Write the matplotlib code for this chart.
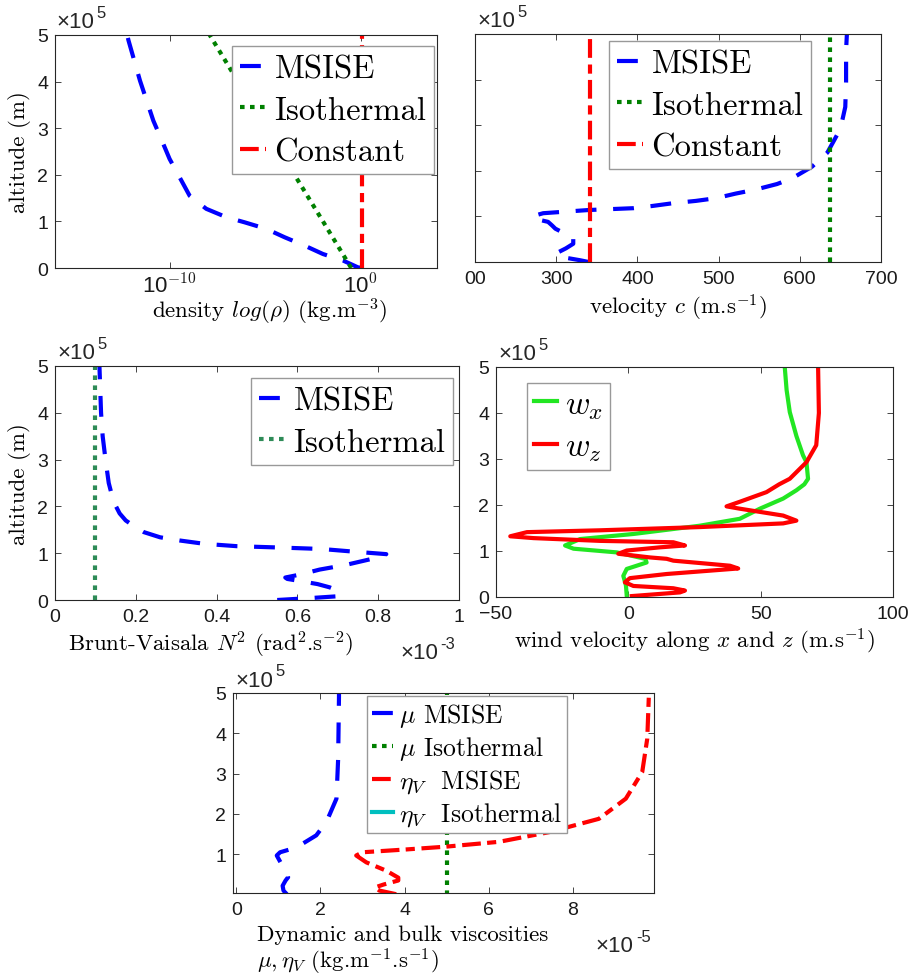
import matplotlib
matplotlib.use('Agg')
import matplotlib.pyplot as plt
from matplotlib.ticker import FuncFormatter, NullLocator

plt.rcParams['font.family'] = ['Liberation Sans', 'DejaVu Sans']
plt.rcParams['mathtext.fontset'] = 'cm'

# ---- data (altitudes in m) ----
# density
rho_msise_z = [0, 0.014e5, 0.16e5, 0.30e5, 0.48e5, 0.66e5, 0.84e5, 0.98e5, 1.09e5, 1.27e5,
               1.55e5, 1.95e5, 2.34e5, 2.73e5, 3.16e5, 3.59e5, 4.02e5, 4.45e5, 4.88e5, 5.0e5]
rho_msise = [1.2, 10**-0.14, 10**-0.92, 10**-1.97, 10**-2.93, 10**-3.98, 10**-4.94, 10**-6.07,
             10**-7.03, 10**-8.08, 10**-8.95, 10**-9.48, 10**-10.0, 10**-10.4, 10**-10.85,
             10**-11.2, 10**-11.55, 10**-11.85, 10**-12.15, 10**-12.22]
rho_iso_z = [0, 1e5, 2e5, 3e5, 4e5, 5e5]
rho_iso = [10**-0.49, 10**-1.97, 10**-3.46, 10**-4.94, 10**-6.42, 10**-7.9]
rho_const_z = [0, 5e5]
rho_const = [1.2, 1.2]
rho_ticklabels = [r'10$^{\mathsf{-10}}$', r'10$^{\mathsf{0}}$']

# sound speed
c_msise_z = [0, 0.04e5, 0.08e5, 0.12e5, 0.2e5, 0.3e5, 0.4e5, 0.53e5, 0.63e5, 0.73e5, 0.8e5,
             0.88e5, 0.93e5, 0.97e5, 1.02e5, 1.07e5, 1.14e5, 1.18e5, 1.23e5, 1.29e5, 1.34e5,
             1.40e5, 1.50e5, 1.59e5, 1.71e5, 1.84e5, 2.09e5, 2.40e5, 2.79e5, 3.08e5, 3.40e5,
             3.95e5, 4.65e5, 5.0e5]
c_msise = [340, 329, 316, 302, 301, 312, 321, 321, 310, 299, 295, 290, 278, 271, 274, 284,
           340, 395, 419, 444, 472, 497, 521, 546, 572, 591, 615, 634, 646, 652, 656, 657, 657, 658]
c_iso_z = [0, 5e5]
c_iso = [637, 637]
c_const_z = [0, 5e5]
c_const = [342, 342]
c_ticklabels = ['00', '300', '400', '500', '600', '700']

# Brunt-Vaisala frequency squared
n2_msise_z = [0, 0.04e5, 0.08e5, 0.14e5, 0.2e5, 0.27e5, 0.34e5, 0.4e5, 0.45e5, 0.48e5, 0.55e5,
              0.65e5, 0.75e5, 0.87e5, 0.98e5, 1.04e5, 1.09e5, 1.12e5, 1.15e5, 1.2e5, 1.27e5,
              1.34e5, 1.45e5, 1.55e5, 1.7e5, 1.85e5, 2.1e5, 2.5e5, 3.0e5, 3.5e5, 4.0e5, 4.5e5, 5.0e5]
n2_msise = [0.55e-3, 0.63e-3, 0.70e-3, 0.705e-3, 0.70e-3, 0.68e-3, 0.65e-3, 0.61e-3, 0.575e-3,
            0.57e-3, 0.61e-3, 0.655e-3, 0.72e-3, 0.78e-3, 0.82e-3, 0.73e-3, 0.66e-3, 0.56e-3,
            0.45e-3, 0.37e-3, 0.31e-3, 0.26e-3, 0.22e-3, 0.20e-3, 0.175e-3, 0.16e-3, 0.145e-3,
            0.133e-3, 0.125e-3, 0.118e-3, 0.114e-3, 0.112e-3, 0.110e-3]
n2_iso_z = [0, 5e5]
n2_iso = [0.1e-3, 0.1e-3]

# wind
wx_z = [0.02e5, 0.25e5, 0.46e5, 0.61e5, 0.75e5, 0.83e5, 0.97e5, 1.05e5, 1.12e5, 1.26e5, 1.37e5,
        1.55e5, 1.70e5, 1.92e5, 2.14e5, 2.32e5, 2.45e5, 2.57e5, 2.93e5, 3.08e5, 3.5e5, 4.02e5,
        4.5e5, 5.0e5]
wx = [-0.6, -0.9, -1.9, -0.6, 6.9, 6.4, -4.4, -20.7, -23.9, -18.2, 1.9, 27, 42.1, 49.7, 58.5,
      63.5, 66.5, 67.9, 67.3, 66, 63.5, 61, 59.8, 59.1]
wz_z = [0.02e5, 0.10e5, 0.14e5, 0.19e5, 0.24e5, 0.32e5, 0.41e5, 0.50e5, 0.62e5, 0.68e5, 0.79e5,
        0.83e5, 0.86e5, 0.94e5, 1.01e5, 1.08e5, 1.12e5, 1.19e5, 1.22e5, 1.28e5, 1.32e5, 1.41e5,
        1.45e5, 1.52e5, 1.60e5, 1.66e5, 1.77e5, 1.92e5, 1.97e5, 2.07e5, 2.28e5, 2.45e5, 2.57e5,
        2.93e5, 3.3e5, 4.0e5, 5.0e5]
wz = [1.3, 19.5, 21.4, 17, 1.9, -1.3, 0.6, 14.5, 41.5, 38.4, 17, 14.5, 8.2, -3.8, -0.6, 12,
      21.4, 17, -10.7, -35.8, -44.6, -38.3, -10.7, 27, 58.5, 63.5, 58.5, 42.1, 37.1, 42.1, 52.2,
      57, 61, 67.3, 71, 72, 71.7]

# viscosities
mu_msise_z = [0.01e5, 0.1e5, 0.22e5, 0.35e5, 0.43e5, 0.6e5, 0.8e5, 0.97e5, 1.05e5, 1.17e5,
              1.47e5, 1.8e5, 2.38e5, 3.37e5, 4.91e5, 5.0e5]
mu_msise = [1.2e-5, 1.12e-5, 1.1e-5, 1.17e-5, 1.23e-5, 1.2e-5, 1.05e-5, 0.96e-5, 1.04e-5,
            1.43e-5, 1.9e-5, 2.14e-5, 2.38e-5, 2.42e-5, 2.44e-5, 2.44e-5]
mu_iso_z = [0, 5e5]
mu_iso = [5.0e-5, 5.0e-5]
eta_msise_z = [0.01e5, 0.1e5, 0.18e5, 0.25e5, 0.35e5, 0.42e5, 0.59e5, 0.8e5, 0.97e5, 1.05e5,
               1.12e5, 1.19e5, 1.31e5, 1.55e5, 1.88e5, 2.38e5, 3.04e5, 3.87e5, 5.0e5]
eta_msise = [3.8e-5, 3.4e-5, 3.3e-5, 3.5e-5, 3.85e-5, 3.85e-5, 3.57e-5, 3.09e-5, 2.85e-5,
             3.0e-5, 4.04e-5, 4.99e-5, 6.25e-5, 7.44e-5, 8.62e-5, 9.26e-5, 9.65e-5, 9.77e-5, 9.81e-5]
eta_iso_z = []
eta_iso = []

BLUE, GREEN, RED = '#0000FF', '#008000', '#FF0000'
DASH = (0, (5, 4))
DOT = (0, (1.1, 1.3))
DASHDOT = (0, (4.5, 1.5, 2.2, 1.6))
LW = 3
LABEL = dict(fontfamily='cmr10', fontsize=16.5)
TICK = 14

fig = plt.figure(figsize=(9.09, 9.79), dpi=100)


def fx(px):
    return px / 909


def fy(py):
    return 1 - py / 979


def new_axes(left, top, right, bottom):
    ax = fig.add_axes([fx(left), fy(bottom), fx(right) - fx(left), fy(top) - fy(bottom)])
    ax.tick_params(direction='in', top=True, right=True, length=4, width=0.6,
                   labelsize=TICK, colors='0.15', labelcolor='0.1')
    ax.tick_params(axis='x', pad=6)
    ax.tick_params(axis='y', pad=5)
    for s in ax.spines.values():
        s.set_color('0.15')
        s.set_linewidth(0.8)
    return ax


alt_fmt = FuncFormatter(lambda v, p: f'{v / 1e5:g}')


def exp_text(ax, x, y, e, va='bottom'):
    # "x10" with a raised exponent, as MATLAB draws the axis multiplier
    base = ax.text(x, y, '×10', transform=ax.transAxes, ha='left', va=va,
                   fontsize=16, color='0.15')
    ax.annotate(e, xy=(1, 1), xycoords=base, xytext=(1.5, 4.5), textcoords='offset points',
                ha='left', va='top', fontsize=12, color='0.15')


def add_legend(ax, anchor, size=24, **kw):
    opts = dict(handlelength=0.8, handletextpad=0.25, borderpad=0.25, labelspacing=0.38)
    opts.update(kw)
    leg = ax.legend(loc='upper left', bbox_to_anchor=(fx(anchor[0]), fy(anchor[1])),
                    bbox_transform=fig.transFigure, borderaxespad=0, fancybox=False,
                    framealpha=1, prop={'family': 'cmr10', 'size': size}, **opts)
    leg.get_frame().set_edgecolor('0.6')
    leg.get_frame().set_linewidth(1)
    return leg


# ---- panel 1: density ----
ax1 = new_axes(55, 36, 437, 269)
ax1.plot(rho_msise, rho_msise_z, color=BLUE, lw=LW, ls=DASH, label=r'MSISE')
ax1.plot(rho_iso, rho_iso_z, color=GREEN, lw=LW, ls=DOT, label=r'Isothermal')
ax1.plot(rho_const, rho_const_z, color=RED, lw=LW, ls=DASHDOT, label=r'Constant')
ax1.set_xscale('log')
ax1.set_xlim(1e-16, 1e4)
ax1.set_ylim(0, 5e5)
ax1.set_xticks([1e-10, 1])
ax1.set_xticklabels(rho_ticklabels, fontsize=16)
ax1.xaxis.set_minor_locator(NullLocator())
ax1.tick_params(axis='x', pad=4)
ax1.yaxis.set_major_formatter(alt_fmt)
ax1.set_xlabel(r'density $log(\rho)$ (kg.m$^{-3}$)', va='center', **LABEL)
ax1.xaxis.set_label_coords(0.563, -0.182)
ax1.set_ylabel('altitude (m)', va='center', **LABEL)
ax1.yaxis.set_label_coords(-0.092, 0.5)
exp_text(ax1, 0.005, 1.012, '5')
add_legend(ax1, (232, 47), size=23.5)

# ---- panel 2: sound speed ----
ax2 = new_axes(475, 35, 881, 263)
ax2.plot(c_msise, c_msise_z, color=BLUE, lw=LW, ls=DASH, label='MSISE')
ax2.plot(c_iso, c_iso_z, color=GREEN, lw=LW, ls=DOT, label='Isothermal')
ax2.plot(c_const, c_const_z, color=RED, lw=LW, ls=DASHDOT, label='Constant')
ax2.set_xlim(200, 700)
ax2.set_ylim(0, 5e5)
ax2.set_xticks(range(200, 701, 100))
ax2.set_xticklabels(c_ticklabels)
ax2.set_yticks([0, 1e5, 2e5, 3e5, 4e5, 5e5])
ax2.tick_params(axis='y', labelleft=False)
ax2.set_xlabel(r'velocity $c$ (m.s$^{-1}$)', va='center', **LABEL)
ax2.xaxis.set_label_coords(0.5, -0.197)
exp_text(ax2, 0.005, 1.012, '5')
add_legend(ax2, (609, 42), size=23.5)

# ---- panel 3: Brunt-Vaisala ----
ax3 = new_axes(55, 367, 459, 601)
ax3.plot(n2_msise, n2_msise_z, color=BLUE, lw=LW, ls=DASH, label='MSISE')
ax3.plot(n2_iso, n2_iso_z, color='#2E8B57', lw=LW, ls=DOT, label='Isothermal')
ax3.set_xlim(0, 1e-3)
ax3.set_ylim(0, 5e5)
ax3.set_xticks([0, 0.2e-3, 0.4e-3, 0.6e-3, 0.8e-3, 1e-3])
ax3.xaxis.set_major_formatter(FuncFormatter(lambda v, p: f'{v / 1e-3:g}'))
ax3.yaxis.set_major_formatter(alt_fmt)
ax3.set_xlabel(r'Brunt-Vaisala $N^2$ (rad$^2$.s$^{-2}$)', va='center', **LABEL)
ax3.xaxis.set_label_coords(0.386, -0.188)
ax3.set_ylabel('altitude (m)', va='center', **LABEL)
ax3.yaxis.set_label_coords(-0.087, 0.5)
exp_text(ax3, 0.855, -0.18, '-3', va='top')
exp_text(ax3, 0.005, 1.012, '5')
add_legend(ax3, (251, 379), size=23.5)

# ---- panel 4: wind ----
ax4 = new_axes(496, 368, 893, 598)
ax4.plot(wx, wx_z, color='#22E622', lw=LW, label=r'$w_x$')
ax4.plot(wz, wz_z, color=RED, lw=LW, label=r'$w_z$')
ax4.set_xlim(-50, 100)
ax4.set_ylim(0, 5e5)
ax4.set_xticks([-50, 0, 50, 100])
ax4.yaxis.set_major_formatter(alt_fmt)
ax4.set_xlabel(r'wind velocity along $x$ and $z$ (m.s$^{-1}$)', va='center', **LABEL)
ax4.xaxis.set_label_coords(0.5, -0.191)
exp_text(ax4, 0.005, 1.012, '5')
add_legend(ax4, (527, 384), labelspacing=0.35, borderpad=0.2, handlelength=0.7)

# ---- panel 5: viscosities ----
ax5 = new_axes(233, 694, 654, 894)
ax5.plot(mu_msise, mu_msise_z, color=BLUE, lw=LW, ls=DASH, label=r'$\mu$ MSISE')
ax5.plot(mu_iso, mu_iso_z, color=GREEN, lw=LW, ls=DOT, label=r'$\mu$ Isothermal')
ax5.plot(eta_msise, eta_msise_z, color=RED, lw=LW, ls=DASHDOT, label=r'$\eta_V$  MSISE')
ax5.plot(eta_iso, eta_iso_z, color='#00BFBF', lw=LW, label=r'$\eta_V$  Isothermal')
ax5.set_xlim(-0.08e-5, 9.93e-5)
ax5.set_ylim(4e3, 5e5)
ax5.set_xticks([0, 2e-5, 4e-5, 6e-5, 8e-5])
ax5.set_yticks([1e5, 2e5, 3e5, 4e5, 5e5])
ax5.xaxis.set_major_formatter(FuncFormatter(lambda v, p: f'{v / 1e-5:g}'))
ax5.yaxis.set_major_formatter(alt_fmt)
ax5.text(0.057, -0.205, 'Dynamic and bulk viscosities', transform=ax5.transAxes,
         ha='left', va='center', **LABEL)
ax5.text(0.057, -0.34, r'$\mu,\eta_V$ (kg.m$^{-1}$.s$^{-1}$)', transform=ax5.transAxes,
         ha='left', va='center', **LABEL)
exp_text(ax5, 0.862, -0.21, '-5', va='top')
exp_text(ax5, 0.005, 1.012, '5')
add_legend(ax5, (367, 697), size=18.5, labelspacing=0.2, borderpad=0.2)

fig.savefig('out.png', dpi=100)
